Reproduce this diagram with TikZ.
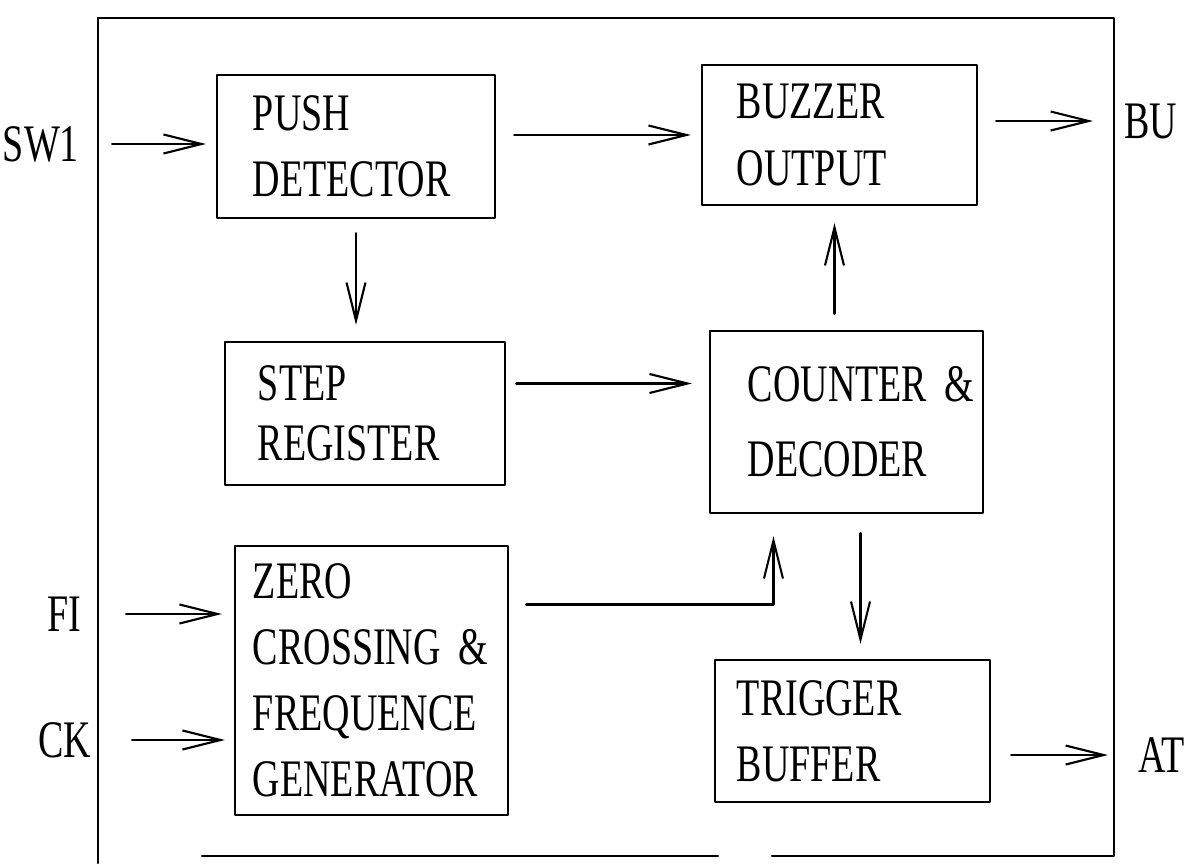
\documentclass[tikz,border=0pt]{standalone}
\usepackage{fontspec}
\newfontfamily\blockfont{Liberation Serif}[FakeStretch=0.72]
\usepackage{tikz}
\usetikzlibrary{arrows.meta,positioning}
\tikzset{
  blockbox/.style={draw,rectangle,align=left,inner ysep=0pt,font=\blockfont\fontsize{15pt}{18.8pt}\selectfont},
  pinlabel/.style={inner sep=0pt,font=\blockfont\fontsize{15pt}{18pt}\selectfont},
  sig/.style={-{Straight Barb[length=3.8mm,width=1.9mm]}},
  every picture/.style={line cap=round,line join=round}
}
\begin{document}
\begin{tikzpicture}[x=0.01cm, y=-0.01cm, line width=0.6pt]
  \useasboundingbox (0,0) rectangle (1191,863);
  \node[blockbox, text width=20.6mm, inner xsep=3.6mm, minimum height=14.3mm] (push) at (356,146.5) {PUSH\\DETECTOR};
  \node[blockbox, text width=20.5mm, inner xsep=3.5mm, minimum height=14mm] (buzzer) at (839.5,135) {BUZZER\\OUTPUT};
  \node[blockbox, text width=21.4mm, inner xsep=3.3mm, minimum height=14.3mm] (step) at (365,413.5) {STEP\\[-1.8pt]REGISTER};
  \node[blockbox, text width=19.7mm, inner xsep=3.8mm, minimum height=18.2mm] (counter) at (846.5,422) {COUNTER~\&\\[2.5pt]DECODER};
  \node[blockbox, text width=23.7mm, inner xsep=1.8mm, minimum height=26.9mm] (zero) at (371.5,680.5) {ZERO\\CROSSING~\&\\FREQUENCE\\GENERATOR};
  \node[blockbox, text width=23.1mm, inner xsep=2.2mm, minimum height=14.2mm] (trigger) at (852.5,731) {TRIGGER\\BUFFER};
  \node[pinlabel, anchor=east] (sw1) at (80,144) {SW1};
  \node[pinlabel, anchor=east] (fi) at (82,614) {FI};
  \node[pinlabel, anchor=east] (ck) at (92,740) {CK};
  \node[pinlabel, anchor=west] (bu) at (1123,121) {BU};
  \node[pinlabel, anchor=west] (at) at (1137,755) {AT};
  \coordinate (stepout) at ([yshift=3mm]step.east);
  \coordinate (cntup) at ([xshift=-1.2mm]counter.north);
  \coordinate (cntdown) at ([xshift=1.4mm]counter.south);
  \coordinate (cntin) at ([xshift=-7.3mm]counter.south);
  \coordinate (zeroout) at ([yshift=7.6mm]zero.east);
  \draw[sig, shorten <=3.2mm, shorten >=1mm] (sw1.east) -- (sw1.east -| push.west);
  \draw[sig, shorten <=1.8mm, shorten >=1mm] (push.east |- buzzer.west) -- (buzzer.west);
  \draw[sig, shorten <=1.8mm, shorten >=3mm] (buzzer.east |- bu.west) -- (bu.west);
  \draw[sig, shorten <=1.4mm, shorten >=1.6mm] (push.south) -- (push.south |- step.north);
  \draw[sig, shorten <=1mm, shorten >=1.7mm] (stepout) -- (stepout -| counter.west);
  \draw[sig, shorten <=1.6mm, shorten >=1.7mm] (cntup) -- (cntup |- buzzer.south);
  \draw[sig, shorten <=1.7mm, shorten >=2.2mm] (zeroout) -| (cntin);
  \draw[sig, shorten <=1.9mm, shorten >=1.5mm] (cntdown) -- (cntdown |- trigger.north);
  \draw[sig, shorten <=2mm, shorten >=2.9mm] (trigger.east |- at.west) -- (at.west);
  \draw[sig, shorten <=4.4mm, shorten >=1.2mm] (fi.east) -- (fi.east -| zero.west);
  \draw[sig, shorten <=4mm, shorten >=0.9mm] (ck.east) -- (ck.east -| zero.west);
  \draw (202,856) -- (718,856);
  \draw (772,856) -- (1114,856) -- (1114,18) -- (98,18) -- (98,863);
\end{tikzpicture}
\end{document}
